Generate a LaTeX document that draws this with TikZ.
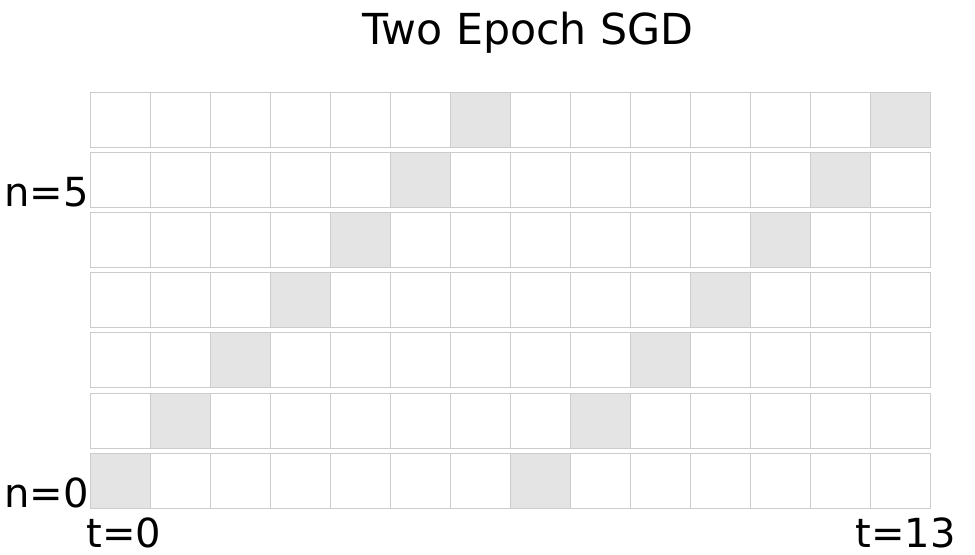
\documentclass[tikz,border=0pt]{standalone}
\usepackage{fontspec}
\setmainfont{DejaVu Sans}
\usetikzlibrary{calc, positioning}
\definecolor{gridline}{HTML}{CCCCCC}
\definecolor{shaded}{HTML}{E4E4E4}

\begin{document}
\begin{tikzpicture}[
    x=0.2mm, y=0.2mm,
    cell/.style={draw=gridline, line width=0.2mm, fill=#1, minimum width=12mm, minimum height=11mm, inner sep=0pt, outer sep=0pt},
    axislabel/.style={font=\fontsize{22.8pt}{27pt}\selectfont, inner sep=0pt}
]
\useasboundingbox (0,0) rectangle (975,555);

% one strip per sample, one cell per step
\foreach \r in {0,...,6}
  \foreach \t in {0,...,13}{
    \pgfmathtruncatemacro{\hit}{mod(\t,7)==\r}
    \ifnum\hit=1 \def\cellfill{shaded}\else\def\cellfill{white}\fi
    \node[cell=\cellfill] (c-\r-\t) at ({120.5+60*\t}, {74.2+60.17*\r}) {};
  }

\node[font=\fontsize{24.3pt}{28pt}\selectfont, inner sep=0pt, anchor=base] (title) at (528,510) {Two Epoch SGD};

\node[axislabel, anchor=base east] (n5) at ($(c-5-0.south west)+(-1.5,0.5)$) {n=5};
\node[axislabel, anchor=base east] (n0) at ($(c-0-0.south west)+(-1.5,0.5)$) {n=0};
\node[axislabel, anchor=base west] (t0) at ($(c-0-0.south west)+(-4.5,-39.7)$) {t=0};
\node[axislabel, anchor=base east] (t13) at ($(c-0-13.south east)+(25.5,-39.7)$) {t=13};
\end{tikzpicture}
\end{document}
